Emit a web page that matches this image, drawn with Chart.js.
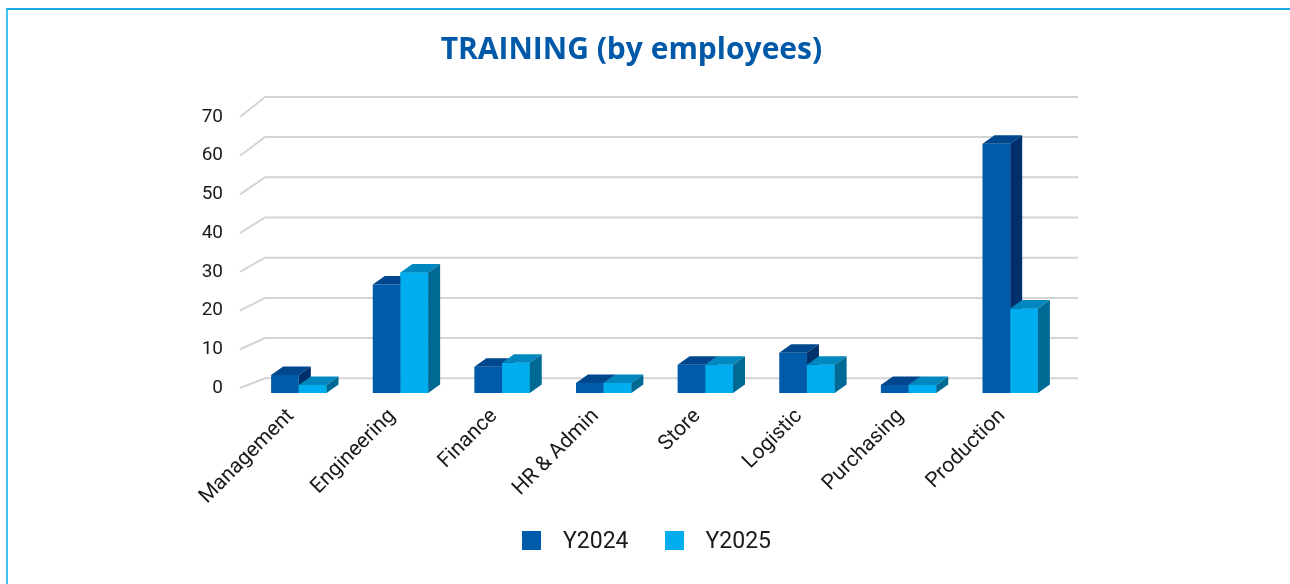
<!DOCTYPE html>
<html>
<head>
<meta charset="utf-8">
<script src="https://cdn.jsdelivr.net/npm/chart.js@4.4.1/dist/chart.umd.min.js"></script>
<style>
  body { margin: 0; background: #fff; }
  #wrap { position: relative; width: 1290px; height: 584px; overflow: hidden; }
  #frame { position: absolute; left: 6px; top: 8px; right: -4px; bottom: -4px;
           border-top: 2px solid #1aa9e1; border-left: 2px solid #3ec6ef; }
  #myChart { position: absolute; left: 0; top: 0; }
  #legend { position: absolute; left: 522px; top: 529px; display: flex; align-items: center;
            font: 23px Roboto, sans-serif; line-height: 23px; color: #1a1a1a; }
  .item { display: flex; align-items: center; }
  .item + .item { margin-left: 36px; }
  .box { width: 19px; height: 19px; margin-right: 22px; }
</style>
</head>
<body>
<div id="wrap">
  <div id="frame"></div>
  <canvas id="myChart" width="1290" height="584"></canvas>
  <div id="legend"></div>
</div>
<script>
// Datos de la gráfica
const categories = ['Management', 'Engineering', 'Finance', 'HR & Admin', 'Store', 'Logistic', 'Purchasing', 'Production'];
const seriesNames = ['Y2024', 'Y2025'];
const y2024 = [4.5, 27, 6.5, 2.5, 7, 10, 2, 62];
const y2025 = [2, 30, 7.5, 2.5, 7, 7, 2, 21];
const yTicks = [0, 10, 20, 30, 40, 50, 60, 70];

// Colores: cara frontal, superior y lateral
const frontColors = ['#005baa', '#00adee'];
const topColors = ['#00478d', '#0088bf'];
const sideColors = ['#00306b', '#006a94'];

// Profundidad del efecto 3D
const DX = 12;
const DY = -8.5;
const WALL_DX = 17;
const WALL_DY = -14.7;
const FLOOR_DX = -8;

const chart = document.getElementById('myChart');

function drawFaces(ctx, el, i) {
  const { x, y, base, width } = el.getProps(['x', 'y', 'base', 'width'], true);
  const l = x - width / 2;
  const r = x + width / 2;
  ctx.fillStyle = topColors[i];
  ctx.beginPath();
  ctx.moveTo(l, y);
  ctx.lineTo(l + DX, y + DY);
  ctx.lineTo(r + DX, y + DY);
  ctx.lineTo(r, y);
  ctx.closePath();
  ctx.fill();
  ctx.fillStyle = sideColors[i];
  ctx.beginPath();
  ctx.moveTo(r, y);
  ctx.lineTo(r + DX, y + DY);
  ctx.lineTo(r + DX, base + DY);
  ctx.lineTo(r, base);
  ctx.closePath();
  ctx.fill();
}

const bars3d = {
  id: 'bars3d',
  beforeDatasetsDraw(c) {
    // pared del fondo y líneas diagonales
    const ctx = c.ctx;
    const area = c.chartArea;
    const yBar = c.scales.y;
    const yLab = c.scales.yl;
    ctx.save();
    ctx.strokeStyle = '#d4d4d4';
    ctx.lineWidth = 2;
    yTicks.forEach(v => {
      const yb = yBar.getPixelForValue(v) + WALL_DY;
      const yf = yLab.getPixelForValue(v);
      ctx.beginPath();
      ctx.moveTo(area.left + FLOOR_DX, yf);
      ctx.lineTo(area.left + WALL_DX, yb);
      ctx.lineTo(area.right + WALL_DX, yb);
      ctx.stroke();
    });
    ctx.restore();
  },
  afterDatasetsDraw(c) {
    const ctx = c.ctx;
    const m0 = c.getDatasetMeta(0);
    const m1 = c.getDatasetMeta(1);
    ctx.save();
    m0.data.forEach((el, k) => {
      drawFaces(ctx, el, 0);
      m1.data[k].draw(ctx);
      drawFaces(ctx, m1.data[k], 1);
    });
    ctx.restore();
  }
};

const chartConfig = {
  type: 'bar',
  data: {
    labels: categories,
    datasets: [
      { label: seriesNames[0], data: y2024, backgroundColor: frontColors[0], borderWidth: 0 },
      { label: seriesNames[1], data: y2025, backgroundColor: frontColors[1], borderWidth: 0 },
    ],
  },
  options: {
    responsive: false,
    animation: false,
    devicePixelRatio: 1,
    events: [],
    layout: { padding: { left: 0, right: 27.2, top: 0, bottom: 0 } },
    datasets: { bar: { barPercentage: 1, categoryPercentage: 0.545 } },
    plugins: {
      legend: { display: false },
      tooltip: { enabled: false },
      title: {
        display: true,
        text: 'TRAINING (by employees)',
        color: '#0058a8',
        font: { family: "'Open Sans'", size: 30, weight: 'bold' },
        padding: { top: 32, bottom: 43.6 },
      },
    },
    scales: {
      x: {
        grid: { display: false, drawTicks: false },
        border: { display: false },
        ticks: {
          color: '#1a1a1a',
          font: { family: 'Roboto', size: 21 },
          minRotation: 45,
          maxRotation: 45,
          padding: 11,
          labelOffset: -8,
        },
        afterFit(s) { s.height = 191; },
      },
      // eje de las barras (sin dibujar), ocupa el hueco de la derecha
      y: {
        position: 'right',
        min: 0,
        max: 70,
        grid: { display: false, drawTicks: false },
        border: { display: false },
        ticks: { display: false },
        afterFit(s) { s.width = 201.8; },
      },
      // eje frontal con las etiquetas
      yl: {
        position: 'left',
        min: -1.29,
        max: 71.39,
        grid: { display: false, drawTicks: false },
        border: { display: false },
        ticks: { color: '#1a1a1a', font: { family: 'Roboto', size: 19 }, padding: 25 },
        afterBuildTicks(s) { s.ticks = yTicks.map(v => ({ value: v })); },
        afterFit(s) { s.width = 248; },
      },
    },
  },
  plugins: [bars3d],
};

const myChart = new Chart(chart, chartConfig);

// Leyenda en HTML a partir de los datasets
const legend = document.getElementById('legend');
chartConfig.data.datasets.forEach(ds => {
  const item = document.createElement('div');
  item.className = 'item';
  item.innerHTML = `<span class="box" style="background:${ds.backgroundColor}"></span><span>${ds.label}</span>`;
  legend.appendChild(item);
});
</script>
</body>
</html>
